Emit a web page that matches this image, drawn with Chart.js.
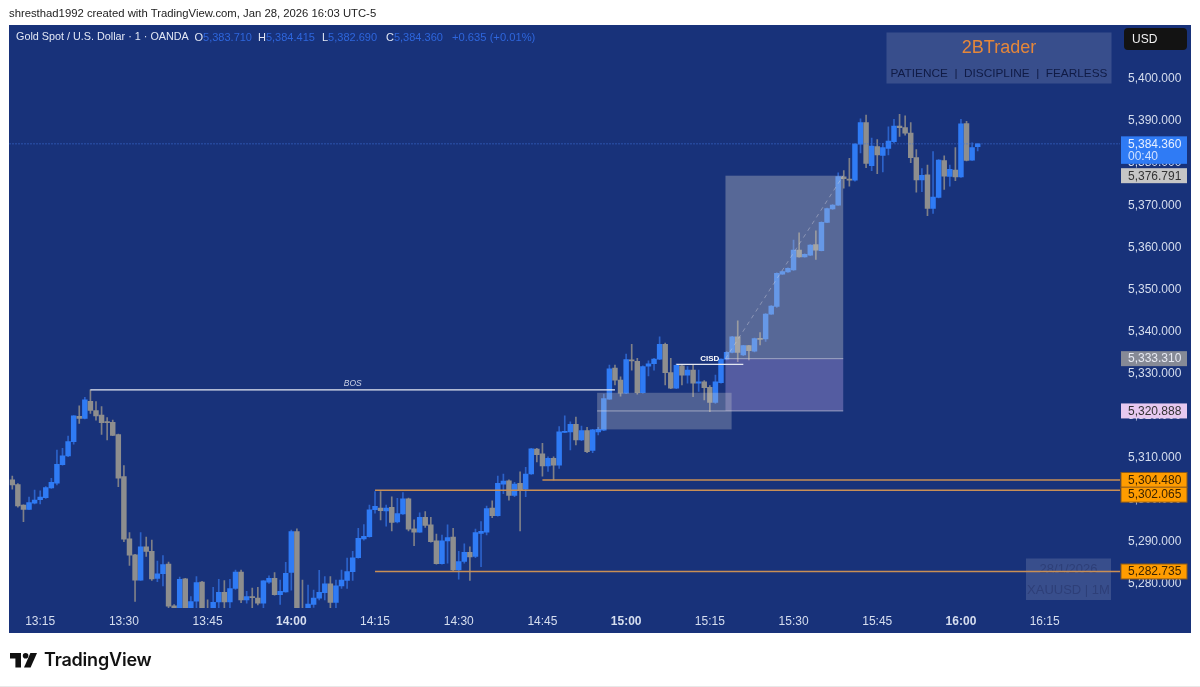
<!DOCTYPE html>
<html>
<head>
<meta charset="utf-8">
<title>XAUUSD 1m</title>
<style>
  html, body { margin: 0; padding: 0; background: #ffffff; }
  body { position: relative; width: 1200px; height: 687px; overflow: hidden; font-family: "Liberation Sans", sans-serif; }
  canvas { position: absolute; left: 0; top: 0; }
  #creator { position: absolute; left: 9px; top: 6px; font-size: 11.3px; line-height: 14px; color: #222222; white-space: nowrap; }
  #brand { position: absolute; left: 44px; top: 648px; font-family: Inter, "Liberation Sans", sans-serif; font-size: 18px; line-height: 24px; font-weight: 600; letter-spacing: -0.2px; color: #111111; }
  #logo { position: absolute; left: 10px; top: 653px; }
  #rule { position: absolute; left: 0; top: 686px; width: 1200px; height: 1px; background: #e8e8e8; }
</style>
</head>
<body>
<canvas id="chart" width="1200" height="687"></canvas>
<div id="creator">shresthad1992 created with TradingView.com, Jan 28, 2026 16:03 UTC-5</div>
<svg id="logo" width="28" height="15" viewBox="0 0 28 15">
  <path d="M0 0H11V14.5H5.4V5.4H0Z" fill="#111111"/>
  <circle cx="15.6" cy="2.8" r="2.8" fill="#111111"/>
  <path d="M20.4 0H27L20.6 14.5H14Z" fill="#111111"/>
</svg>
<div id="brand">TradingView</div>
<div id="rule"></div>

<script src="https://cdn.jsdelivr.net/npm/chart.js@4"></script>
<script>
// one candle per minute from 13:10
const openPrices = [
  5304.5, 5303.4, 5298.5, 5297.5, 5299.0, 5299.8, 5300.3, 5302.6, 5303.7, 5308.1,
  5310.2, 5313.6, 5319.6, 5319.1, 5323.2, 5321.0, 5319.9, 5318.3, 5318.2, 5315.3,
  5305.3, 5290.5, 5286.7, 5280.7, 5288.6, 5287.5, 5281.1, 5282.2, 5284.5, 5274.6,
  5273.5, 5281.0, 5274.1, 5275.7, 5280.2, 5273.2, 5273.8, 5275.5, 5277.8, 5275.5,
  5278.7, 5282.6, 5276.0, 5276.8, 5276.4, 5275.2, 5280.2, 5281.1, 5277.2, 5277.9,
  5282.5, 5292.2, 5273.2, 5273.6, 5274.9, 5276.4, 5277.7, 5279.8, 5275.4, 5279.3,
  5280.6, 5282.7, 5286.0, 5290.5, 5291.0, 5297.4, 5297.8, 5297.1, 5298.0, 5294.5,
  5296.4, 5300.0, 5292.9, 5292.1, 5295.6, 5293.8, 5290.0, 5284.6, 5290.0, 5290.9,
  5283.1, 5285.1, 5287.3, 5286.3, 5291.8, 5292.1, 5297.8, 5296.0, 5303.5, 5304.3,
  5300.8, 5303.7, 5302.3, 5305.9, 5311.8, 5310.7, 5307.8, 5309.6, 5308.0, 5315.8,
  5315.9, 5317.7, 5314.0, 5316.2, 5311.5, 5315.9, 5316.3, 5323.7, 5331.1, 5328.2,
  5325.1, 5333.0, 5332.7, 5325.2, 5331.5, 5332.1, 5333.2, 5336.7, 5330.0, 5326.3,
  5331.6, 5329.4, 5330.6, 5327.5, 5327.8, 5326.5, 5322.9, 5327.6, 5333.2, 5334.8,
  5338.5, 5334.2, 5336.4, 5335.1, 5338.1, 5338.0, 5343.9, 5345.7, 5353.4, 5353.9,
  5354.4, 5359.1, 5357.5, 5357.9, 5360.4, 5359.0, 5365.7, 5368.9, 5369.8, 5376.5,
  5376.0, 5375.7, 5384.3, 5389.4, 5379.2, 5383.7, 5381.6, 5383.3, 5384.9, 5388.6,
  5388.2, 5386.9, 5381.1, 5375.8, 5377.0, 5369.0, 5371.6, 5380.4, 5376.6, 5378.1,
  5376.5, 5389.2, 5380.5, 5383.71,
];
const highPrices = [
  5305.4, 5303.6, 5298.6, 5300.4, 5302.1, 5301.9, 5302.9, 5304.9, 5311.6, 5312.0,
  5314.9, 5319.8, 5322.1, 5324.1, 5325.9, 5323.1, 5321.9, 5319.3, 5318.7, 5315.4,
  5307.9, 5292.0, 5286.8, 5292.0, 5290.9, 5290.2, 5285.2, 5286.5, 5285.0, 5274.9,
  5281.4, 5281.1, 5276.8, 5281.5, 5280.4, 5276.0, 5279.0, 5280.9, 5280.6, 5280.9,
  5283.1, 5283.1, 5278.0, 5278.8, 5279.0, 5280.6, 5281.7, 5282.5, 5280.7, 5284.9,
  5292.6, 5292.9, 5280.7, 5279.5, 5278.3, 5283.0, 5281.5, 5281.5, 5280.7, 5283.1,
  5285.9, 5287.5, 5293.0, 5293.9, 5298.5, 5301.7, 5301.7, 5298.5, 5300.5, 5300.1,
  5301.5, 5300.2, 5295.0, 5296.7, 5297.0, 5295.6, 5291.6, 5291.4, 5293.8, 5293.0,
  5287.5, 5289.3, 5288.6, 5292.8, 5294.6, 5298.3, 5299.5, 5305.4, 5305.9, 5304.5,
  5303.9, 5306.4, 5307.5, 5312.0, 5312.0, 5313.2, 5310.0, 5310.0, 5317.2, 5319.7,
  5318.3, 5319.4, 5317.3, 5317.0, 5316.5, 5317.0, 5324.9, 5331.8, 5331.8, 5329.0,
  5334.4, 5336.7, 5333.4, 5331.6, 5332.8, 5333.4, 5338.5, 5337.0, 5333.4, 5332.0,
  5331.8, 5331.4, 5331.8, 5330.6, 5328.1, 5326.9, 5329.4, 5333.3, 5335.0, 5338.6,
  5342.3, 5336.5, 5336.5, 5338.2, 5339.5, 5344.0, 5345.9, 5353.7, 5354.1, 5354.9,
  5361.5, 5363.2, 5358.2, 5360.4, 5363.7, 5365.8, 5369.1, 5369.9, 5377.5, 5378.0,
  5380.9, 5384.4, 5390.3, 5391.2, 5385.7, 5385.4, 5384.5, 5388.4, 5390.2, 5391.4,
  5391.0, 5389.4, 5383.0, 5378.5, 5379.3, 5382.5, 5380.6, 5381.5, 5379.3, 5383.5,
  5390.2, 5389.7, 5384.6, 5384.415,
];
const lowPrices = [
  5302.3, 5298.0, 5294.6, 5297.4, 5298.8, 5298.8, 5300.1, 5302.5, 5303.3, 5308.0,
  5310.0, 5313.0, 5317.9, 5319.0, 5320.3, 5318.7, 5315.3, 5314.0, 5315.0, 5302.9,
  5289.8, 5284.2, 5275.6, 5280.6, 5286.3, 5280.6, 5280.3, 5279.3, 5273.9, 5273.2,
  5273.0, 5273.0, 5273.5, 5273.7, 5272.9, 5272.5, 5273.3, 5273.7, 5273.7, 5273.9,
  5278.5, 5275.3, 5275.2, 5273.9, 5274.8, 5273.9, 5279.9, 5277.1, 5274.9, 5277.8,
  5278.3, 5273.0, 5272.3, 5273.2, 5274.2, 5276.0, 5276.0, 5273.8, 5273.9, 5278.7,
  5278.7, 5280.6, 5285.9, 5290.2, 5290.9, 5296.6, 5295.0, 5293.5, 5292.4, 5294.3,
  5296.3, 5292.4, 5288.9, 5292.0, 5293.2, 5289.7, 5284.5, 5284.5, 5284.7, 5282.7,
  5280.9, 5284.7, 5280.6, 5286.0, 5283.9, 5291.4, 5295.5, 5295.9, 5301.2, 5299.7,
  5300.5, 5292.4, 5300.5, 5305.8, 5308.8, 5305.4, 5306.5, 5304.5, 5307.2, 5315.7,
  5311.6, 5312.8, 5313.8, 5311.0, 5311.0, 5315.2, 5316.2, 5323.6, 5327.1, 5324.4,
  5325.0, 5330.6, 5324.9, 5325.1, 5329.2, 5330.6, 5333.1, 5327.1, 5326.2, 5326.2,
  5327.1, 5327.5, 5324.3, 5325.5, 5323.5, 5320.7, 5322.7, 5327.5, 5333.0, 5334.7,
  5332.6, 5334.0, 5333.0, 5334.9, 5336.6, 5337.4, 5343.8, 5345.5, 5353.3, 5353.8,
  5354.3, 5357.4, 5357.4, 5357.8, 5356.9, 5358.9, 5365.6, 5368.8, 5369.7, 5373.8,
  5374.3, 5375.5, 5382.2, 5378.7, 5378.0, 5377.3, 5377.7, 5381.7, 5384.6, 5386.1,
  5386.4, 5379.9, 5372.9, 5373.0, 5367.3, 5367.8, 5371.5, 5373.5, 5374.3, 5375.6,
  5376.4, 5380.3, 5380.4, 5382.69,
];
const closePrices = [
  5303.3, 5298.3, 5297.5, 5299.1, 5299.7, 5300.4, 5302.7, 5303.9, 5308.2, 5310.2,
  5313.6, 5319.7, 5319.1, 5323.5, 5321.0, 5319.7, 5318.1, 5318.1, 5315.1, 5304.9,
  5290.4, 5286.6, 5280.7, 5288.6, 5287.5, 5281.0, 5282.2, 5284.4, 5274.5, 5273.6,
  5280.9, 5273.4, 5275.6, 5280.1, 5273.3, 5272.8, 5275.4, 5277.8, 5275.5, 5278.7,
  5282.6, 5276.0, 5276.8, 5276.5, 5275.2, 5280.5, 5281.1, 5277.2, 5278.0, 5282.3,
  5292.2, 5273.4, 5272.7, 5275.0, 5276.4, 5277.8, 5279.8, 5275.4, 5279.3, 5280.7,
  5282.7, 5286.0, 5290.6, 5291.1, 5297.4, 5298.2, 5297.2, 5297.8, 5294.4, 5296.5,
  5300.0, 5292.8, 5292.1, 5295.6, 5293.7, 5289.8, 5284.6, 5290.0, 5290.8, 5283.1,
  5285.1, 5287.3, 5286.2, 5292.0, 5292.3, 5297.7, 5296.0, 5303.7, 5304.2, 5300.8,
  5303.5, 5302.1, 5305.9, 5311.9, 5310.5, 5307.8, 5309.6, 5308.0, 5315.9, 5316.0,
  5317.7, 5314.0, 5316.2, 5311.2, 5316.4, 5316.5, 5323.8, 5330.9, 5328.2, 5325.1,
  5333.1, 5332.8, 5325.2, 5331.4, 5332.1, 5333.2, 5336.7, 5330.0, 5326.3, 5331.7,
  5329.4, 5330.6, 5327.5, 5327.8, 5326.4, 5322.9, 5327.8, 5333.2, 5334.8, 5338.5,
  5334.8, 5336.4, 5335.2, 5338.1, 5337.9, 5343.9, 5345.8, 5353.6, 5354.0, 5354.8,
  5359.1, 5357.5, 5358.1, 5360.3, 5359.1, 5365.7, 5369.0, 5369.8, 5376.6, 5376.1,
  5375.7, 5384.3, 5389.4, 5379.7, 5383.8, 5381.7, 5383.5, 5385.0, 5388.6, 5388.2,
  5386.9, 5381.1, 5375.8, 5376.9, 5369.0, 5371.7, 5380.5, 5376.7, 5378.3, 5376.5,
  5389.1, 5380.4, 5383.5, 5384.36,
];

const timeTicks = ["13:15", "13:30", "13:45", "14:00", "14:15", "14:30", "14:45", "15:00", "15:15", "15:30", "15:45", "16:00", "16:15"];
const boldTimes = ["14:00", "15:00", "16:00"];
const priceTicks = [5280, 5290, 5300, 5310, 5320, 5330, 5340, 5350, 5360, 5370, 5380, 5390, 5400];

// drawings on the chart, in prices and candle numbers
const lastPrice = 5384.36;
const levelPrices = [5304.48, 5302.065, 5282.735];
const levelStarts = ["14:45", "14:15", "14:15"];
const bosPrice = 5325.87;
const cisdPrice = 5331.95;
const targetPrice = 5376.791;
const entryPrice = 5333.31;
const stopPrice = 5320.888;
const gapTop = 5325.2;
const gapBottom = 5316.5;

// the axis runs on past the last candle, so the minutes are counted out here
const minuteLabels = [];
for (let m = 13 * 60 + 10; m <= 16 * 60 + 28; m++) {
  minuteLabels.push(Math.floor(m / 60) + ":" + String(m % 60).padStart(2, "0"));
}

const BLUE = "#2f7bf5";
const GREY = "#8e8e8e";
const isUp = (i) => closePrices[i] >= openPrices[i];
const FONT = '"Liberation Sans", sans-serif';

const fmt = (v) => v.toLocaleString("en-US", { minimumFractionDigits: 3, maximumFractionDigits: 3 });

function putText(ctx, text, x, y, font, color, align) {
  ctx.font = font;
  ctx.fillStyle = color;
  ctx.textAlign = align || "left";
  ctx.textBaseline = "middle";
  ctx.fillText(text, x, y);
}

// shift moves a tag off its price when two tags would sit on top of each other
function priceTag(ctx, yScale, price, bg, fg, border, shift) {
  const y = yScale.getPixelForValue(price) + (shift || 0);
  ctx.fillStyle = bg;
  ctx.fillRect(1121, y - 7.5, 66, 15);
  if (border) {
    ctx.strokeStyle = border;
    ctx.lineWidth = 1;
    ctx.strokeRect(1121, y - 7.5, 66, 15);
  }
  putText(ctx, fmt(price), 1128, y + 0.5, "12px " + FONT, fg);
}

const panePlugin = {
  id: "pane",
  beforeDraw(chart) {
    const { ctx } = chart;
    ctx.save();
    ctx.fillStyle = "#18327a";
    ctx.fillRect(9, 25, 1182, 608);
    ctx.restore();
  },
};

const drawingsPlugin = {
  id: "drawings",
  afterDatasetsDraw(chart) {
    const { ctx, chartArea } = chart;
    const x = chart.scales.x;
    const y = chart.scales.y;
    const at = (label) => x.getPixelForValue(minuteLabels.indexOf(label));

    ctx.save();

    // current price line
    ctx.strokeStyle = "#3f76e0";
    ctx.lineWidth = 1;
    ctx.setLineDash([1, 2]);
    ctx.beginPath();
    ctx.moveTo(chartArea.left, y.getPixelForValue(lastPrice));
    ctx.lineTo(chartArea.right, y.getPixelForValue(lastPrice));
    ctx.stroke();
    ctx.setLineDash([]);

    // boxes
    const boxLeft = x.getPixelForValue(127.8);
    const boxRight = x.getPixelForValue(148.9);
    const gapLeft = x.getPixelForValue(104.8);
    const gapRight = x.getPixelForValue(128.9);
    ctx.fillStyle = "rgba(205, 205, 205, 0.35)";
    ctx.fillRect(boxLeft, y.getPixelForValue(targetPrice), boxRight - boxLeft, y.getPixelForValue(entryPrice) - y.getPixelForValue(targetPrice));
    ctx.fillStyle = "rgba(185, 160, 225, 0.38)";
    ctx.fillRect(boxLeft, y.getPixelForValue(entryPrice), boxRight - boxLeft, y.getPixelForValue(stopPrice) - y.getPixelForValue(entryPrice));
    ctx.fillStyle = "rgba(205, 205, 205, 0.3)";
    ctx.fillRect(gapLeft, y.getPixelForValue(gapTop), gapRight - gapLeft, y.getPixelForValue(gapBottom) - y.getPixelForValue(gapTop));

    ctx.strokeStyle = "rgba(215, 215, 225, 0.6)";
    ctx.beginPath();
    ctx.moveTo(gapLeft, y.getPixelForValue(stopPrice));
    ctx.lineTo(boxRight, y.getPixelForValue(stopPrice));
    ctx.moveTo(boxLeft, y.getPixelForValue(entryPrice));
    ctx.lineTo(boxRight, y.getPixelForValue(entryPrice));
    ctx.stroke();

    ctx.strokeStyle = "rgba(215, 215, 225, 0.4)";
    ctx.setLineDash([4, 4]);
    ctx.beginPath();
    ctx.moveTo(boxLeft, y.getPixelForValue(entryPrice));
    ctx.lineTo(boxRight, y.getPixelForValue(targetPrice));
    ctx.stroke();
    ctx.setLineDash([]);

    // BOS and CISD
    ctx.strokeStyle = "#e4e8f2";
    ctx.lineWidth = 1.2;
    ctx.beginPath();
    ctx.moveTo(at("13:24"), y.getPixelForValue(bosPrice));
    ctx.lineTo(at("14:58"), y.getPixelForValue(bosPrice));
    ctx.moveTo(at("15:09"), y.getPixelForValue(cisdPrice));
    ctx.lineTo(at("15:21"), y.getPixelForValue(cisdPrice));
    ctx.stroke();
    putText(ctx, "BOS", at("14:11"), y.getPixelForValue(bosPrice) - 6, "italic 8.5px " + FONT, "#c9d0e4", "center");
    putText(ctx, "CISD", at("15:15"), y.getPixelForValue(cisdPrice) - 5.5, "bold 8px " + FONT, "#ffffff", "center");

    // logo boxes
    ctx.fillStyle = "rgba(255, 255, 255, 0.14)";
    ctx.fillRect(886.5, 32.5, 225, 51);
    ctx.fillRect(1026, 558.5, 85, 41.5);
    putText(ctx, "2BTrader", 999, 48, "18px " + FONT, "#e5873a", "center");
    putText(ctx, "PATIENCE  |  DISCIPLINE  |  FEARLESS", 999, 73.5, "11.8px " + FONT, "#101b45", "center");
    putText(ctx, "28/1/2026", 1068.5, 569, "13px " + FONT, "#2e3f78", "center");
    putText(ctx, "XAUUSD | 1M", 1068.5, 590.5, "13px " + FONT, "#2e3f78", "center");

    // order levels
    ctx.strokeStyle = "#c98f55";
    ctx.lineWidth = 1.5;
    levelPrices.forEach((price, i) => {
      ctx.beginPath();
      ctx.moveTo(at(levelStarts[i]), y.getPixelForValue(price));
      ctx.lineTo(chartArea.right, y.getPixelForValue(price));
      ctx.stroke();
    });

    // symbol line
    putText(ctx, "Gold Spot / U.S. Dollar \u00b7 1 \u00b7 OANDA", 16, 37.5, "10.8px " + FONT, "#e3e8f5");
    const ohlc = [["O", "5,383.710", 194.5], ["H", "5,384.415", 258], ["L", "5,382.690", 322], ["C", "5,384.360", 386]];
    ohlc.forEach(([key, value, left]) => {
      putText(ctx, key, left, 37.5, "11px " + FONT, "#e3e8f5");
      putText(ctx, value, left + ctx.measureText(key).width, 37.5, "11px " + FONT, "#2e66dc");
    });
    putText(ctx, "+0.635 (+0.01%)", 452, 37.5, "11.2px " + FONT, "#2e66dc");

    ctx.restore();
  },
  afterDraw(chart) {
    const { ctx } = chart;
    const y = chart.scales.y;
    ctx.save();

    ctx.fillStyle = "#131313";
    ctx.beginPath();
    ctx.roundRect(1124, 28, 63, 22, 4);
    ctx.fill();
    putText(ctx, "USD", 1132, 39.5, "12px " + FONT, "#f2f2f2");

    priceTag(ctx, y, targetPrice, "#c6c6c6", "#333333");
    priceTag(ctx, y, entryPrice, "#868a96", "#e6e9f2");
    priceTag(ctx, y, stopPrice, "#e7c9f0", "#333333");
    priceTag(ctx, y, levelPrices[0], "#ff9c00", "#3b2400", "#8a5a1c");
    priceTag(ctx, y, levelPrices[1], "#ff9c00", "#3b2400", "#8a5a1c", 4.5);
    priceTag(ctx, y, levelPrices[2], "#ff9c00", "#3b2400", "#8a5a1c");

    // last price with the countdown under it
    const top = y.getPixelForValue(lastPrice) - 7.5;
    ctx.fillStyle = BLUE;
    ctx.fillRect(1121, top, 66, 27.5);
    putText(ctx, fmt(lastPrice), 1128, top + 8, "12px " + FONT, "#e6efff");
    putText(ctx, "00:40", 1128, top + 20.5, "12px " + FONT, "#cfe0ff");

    ctx.restore();
  },
};

const options = {
  responsive: false,
  animation: false,
  layout: { padding: { left: 9.5, right: 9, top: 25, bottom: 54 } },
  plugins: {
    legend: { display: false },
    tooltip: { enabled: false },
  },
  scales: {
    x: {
      stacked: true, // keeps body and wick on the same slot
      grid: { display: false, drawTicks: false },
      border: { display: false },
      afterFit(scale) {
        scale.height = 25;
      },
      ticks: {
        autoSkip: false,
        maxRotation: 0,
        padding: 6,
        color: "#d6deef",
        font: (c) => ({
          family: FONT,
          size: 12,
          weight: boldTimes.includes(c.tick.label) ? "bold" : "normal",
        }),
        callback(value) {
          const label = this.getLabelForValue(value);
          return timeTicks.includes(label) ? label : "";
        },
      },
    },
    y: {
      position: "right",
      min: 5274.06,
      max: 5412.6,
      grid: { display: false, drawTicks: false },
      border: { display: false },
      afterBuildTicks(scale) {
        scale.ticks = priceTicks.map((value) => ({ value }));
      },
      afterFit(scale) {
        scale.width = 71;
      },
      ticks: {
        padding: 8,
        labelOffset: 1,
        color: "#d6deef",
        font: { family: FONT, size: 12 },
        callback: (value) => fmt(value),
      },
    },
  },
};

new Chart(document.getElementById("chart"), {
  type: "bar",
  data: {
    labels: minuteLabels,
    datasets: [
      {
        label: "Body",
        data: openPrices.map((o, i) => [o, closePrices[i]]),
        backgroundColor: openPrices.map((o, i) => (isUp(i) ? BLUE : GREY)),
        barThickness: 4.8,
        minBarLength: 1,
      },
      {
        label: "Wick",
        data: lowPrices.map((l, i) => [l, highPrices[i]]),
        backgroundColor: lowPrices.map((l, i) => (isUp(i) ? "#2c62c9" : "#7f8087")),
        barThickness: 1,
      },
    ],
  },
  options,
  plugins: [panePlugin, drawingsPlugin],
});
</script>
</body>
</html>
